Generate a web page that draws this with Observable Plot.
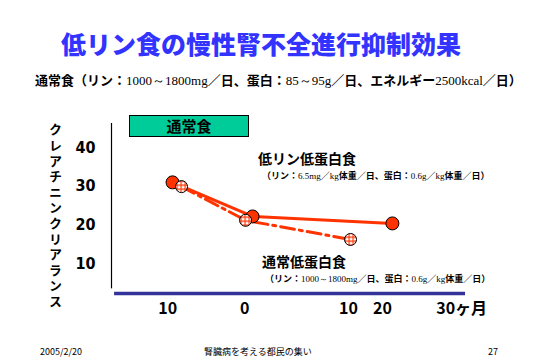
<!DOCTYPE html>
<html><head><meta charset="utf-8">
<script src="https://cdn.jsdelivr.net/npm/d3@7"></script>
<script src="https://cdn.jsdelivr.net/npm/@observablehq/plot@0.6"></script>
<style>
body{margin:0;background:#fff;}
#page{position:relative;width:539px;height:359px;overflow:hidden;font-family:"Noto Sans CJK JP",sans-serif;color:#000;}
.abs{position:absolute;white-space:nowrap;}
.n{font-family:"Liberation Serif",serif;font-weight:400;}
#title{left:0;width:522px;top:27px;text-align:center;font-size:25px;line-height:32px;font-weight:900;color:#3333FF;}
#sub{left:35px;top:71px;font-size:13px;line-height:17px;font-weight:700;}
#ylab{left:47px;top:123px;writing-mode:vertical-rl;text-orientation:upright;font-size:13px;font-weight:700;letter-spacing:2.6px;line-height:16px;}
#box{left:129px;top:115px;width:120px;height:22px;box-sizing:border-box;background:#00CC99;border:1px solid #000;text-align:center;font-size:15px;line-height:20px;font-weight:700;}
.ann{font-size:14px;line-height:16px;font-weight:700;}
.note{font-size:9px;line-height:11px;font-weight:700;}
.foot{font-size:9px;line-height:12px;top:346px;font-family:"Noto Sans CJK JP",sans-serif;}
#chart{position:absolute;left:0;top:100px;}
</style></head>
<body><div id="page">
<div id="title" class="abs">低リン食の慢性腎不全進行抑制効果</div>
<div id="sub" class="abs">通常食（リン：<span class="n">1000～1800mg</span>／日、蛋白：<span class="n">85～95g</span>／日、エネルギー<span class="n">2500kcal</span>／日）</div>
<div id="chart"></div>
<div id="ylab" class="abs">クレアチニンクリアランス</div>
<div id="box" class="abs">通常食</div>
<div class="abs ann" style="left:258px;top:150px;">低リン低蛋白食</div>
<div class="abs note" style="left:262px;top:170px;">（リン：<span class="n">6.5mg</span>／<span class="n">kg</span>体重／日、蛋白：<span class="n">0.6g</span>／<span class="n">kg</span>体重／日）</div>
<div class="abs ann" style="left:262px;top:253px;">通常低蛋白食</div>
<div class="abs note" style="left:265px;top:273px;">（リン：<span class="n">1000～1800mg</span>／日、蛋白：<span class="n">0.6g</span>／<span class="n">kg</span>体重／日）</div>
<div class="abs foot" style="left:40px;">2005/2/20</div>
<div class="abs foot" style="left:204px;">腎臓病を考える都民の集い</div>
<div class="abs foot" style="left:488px;">27</div>
</div>
<script>
// Data (x in months on the slide's own axis)
const lowPMonth = [-9.37, 1.03, 19.2];
const lowPValue = [31.0, 22.2, 20.4];
const normalPMonth = [-8.2, 0.12, 13.76];
const normalPValue = [29.9, 21.2, 16.25];
const yTicks = [10, 20, 30, 40];
const xTickPos = [-10, 0, 13.5, 17.9, 28.2];
const xTickLabels = ["10", "0", "10", "20", "30ヶ月"];

const lowP = lowPMonth.map((m, i) => ({m, v: lowPValue[i]}));
const normalP = normalPMonth.map((m, i) => ({m, v: normalPValue[i]}));
const xt = xTickPos.map((p, i) => ({p, t: xTickLabels[i]}));

const red = "#FF3300";
const chart = Plot.plot({
  width: 539, height: 230,
  marginLeft: 111, marginRight: 74, marginTop: 23, marginBottom: 37,
  x: {domain: [-17.3, 28.7], axis: null},
  y: {domain: [2.3, 46.2], axis: null},
  style: {background: "transparent", overflow: "visible"},
  marks: [
    Plot.axisY(yTicks, {anchor: "left", label: null, tickSize: 0, tickPadding: 16, fontSize: 16, fontWeight: "bold",
      fontFamily: "'Liberation Sans Narrow','DejaVu Sans Condensed',sans-serif", fill: "#000", tickFormat: d => String(d)}),
    Plot.ruleX([-17.3], {y1: 3.5, y2: 46.2, stroke: "#000", strokeWidth: 1.2}),
    Plot.ruleY([2.3], {x1: -16.9, x2: 28.7, stroke: "#333399", strokeWidth: 3.5}),
    Plot.text(xt, {x: "p", text: "t", frameAnchor: "bottom", dy: 20, fontSize: 16, fontWeight: "bold",
      fontFamily: "'Liberation Sans Narrow','Noto Sans CJK JP',sans-serif", fill: "#000"}),
    Plot.line(normalP, {x: "m", y: "v", stroke: red, strokeWidth: 3, strokeDasharray: "14,5,3,5"}),
    Plot.line(lowP, {x: "m", y: "v", stroke: red, strokeWidth: 3}),
    Plot.dot(lowP, {x: "m", y: "v", r: 6.5, fill: red, stroke: "#000", strokeWidth: 1}),
    Plot.dot(normalP, {x: "m", y: "v", r: 6, fill: "url(#hatch)", stroke: "#000", strokeWidth: 1})
  ]
});
const defs = d3.select(chart).insert("defs", ":first-child");
const pat = defs.append("pattern").attr("id", "hatch").attr("patternUnits", "userSpaceOnUse")
  .attr("width", 4).attr("height", 4);
pat.append("rect").attr("width", 4).attr("height", 4).attr("fill", "#fff");
pat.append("path").attr("d", "M0,0.5H4M0.5,0V4").attr("stroke", red).attr("stroke-width", 1.3);
document.getElementById("chart").appendChild(chart);
</script>
</body></html>
